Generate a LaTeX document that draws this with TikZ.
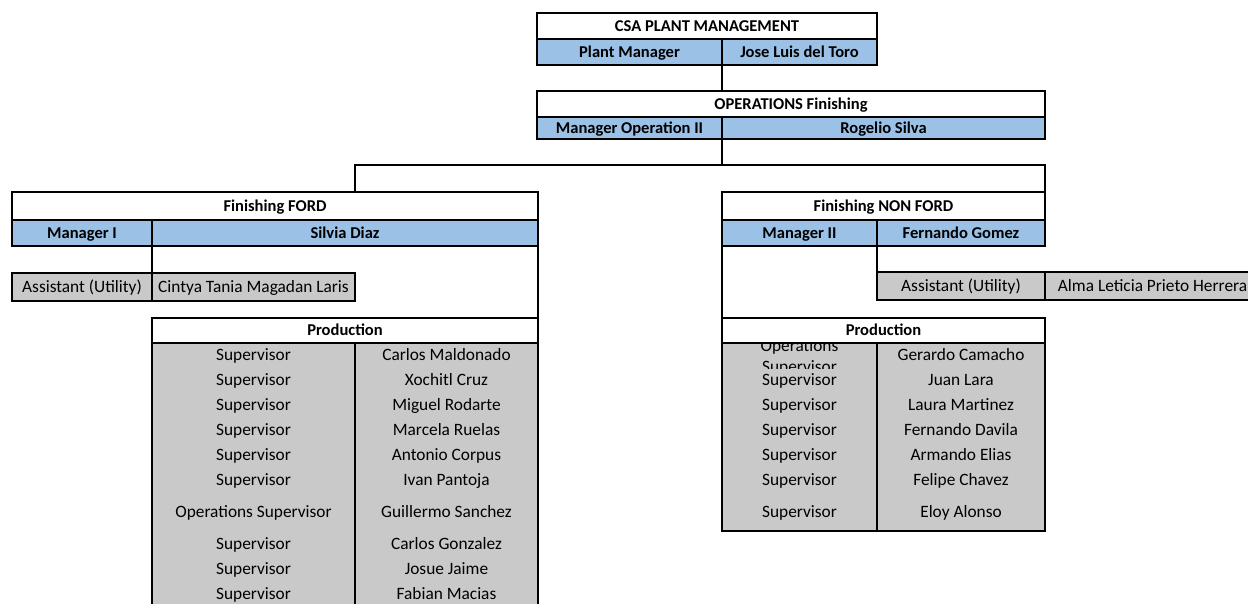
\documentclass[tikz,border=0pt]{standalone}
\usepackage{fontspec}
\setmainfont{Carlito}
\definecolor{cellblue}{HTML}{9BC2E6}
\definecolor{cellgray}{HTML}{C9C9C9}
\begin{document}
\begin{tikzpicture}[x=0.75pt,y=-0.75pt]

    \tikzset{
      cellw/.style={minimum width=#1*0.75pt},
      cellh/.style={minimum height=#1*0.75pt},
      cell/.style={
        draw,
        line width=1.5pt,
        inner sep=0pt,
        outer sep=0pt,
        text height=9.8pt,
        text depth=2.2pt,
        anchor=north west,
        font=\fontsize{13}{15}\selectfont,
      },
      head/.style={cell, fill=white, font=\fontsize{12.4}{14}\selectfont\bfseries},
      role/.style={cell, fill=cellblue, font=\fontsize{12.4}{14}\selectfont\bfseries},
      util/.style={cell, fill=cellgray},
      txt/.style={inner sep=0pt, text height=9.8pt, text depth=2.2pt, font=\fontsize{13}{15}\selectfont},
      conn/.style={line width=1.5pt},
    }
    \clip (0,0) rectangle (1248,603);

    % plant management
    \node[head, cellw=340, cellh=26] (csa) at (537,13) {CSA PLANT MANAGEMENT};
    \node[role, cellw=185, cellh=26] (pmrole) at (csa.south west) {Plant Manager};
    \node[role, cellw=155, cellh=26] (pmname) at (pmrole.north east) {Jose Luis del Toro};

    % operations
    \node[head, cellw=508, cellh=26] (ops) at (537,91) {OPERATIONS Finishing};
    \node[role, cellw=185, cellh=22] (opsrole) at (ops.south west) {Manager Operation II};
    \node[role, cellw=323, cellh=22] (opsname) at (opsrole.north east) {Rogelio Silva};
    \draw[conn] (pmrole.south east) -- (ops.north -| pmrole.south east);

    % finishing ford
    \node[head, cellw=526, cellh=28] (ford) at (12,192) {Finishing FORD};
    \node[role, cellw=140, cellh=26] (fmgr) at (ford.south west) {Manager I};
    \node[role, cellw=386, cellh=26] (fname) at (fmgr.north east) {Silvia Diaz};
    \node[util, cellw=140, cellh=28] (fasst) at (12,273) {Assistant (Utility)};
    \node[util, cellw=203, cellh=28] (fasstname) at (fasst.north east) {Cintya Tania Magadan Laris};

    % finishing non ford
    \node[head, cellw=323, cellh=28] (nford) at (722,192) {Finishing NON FORD};
    \node[role, cellw=155, cellh=26] (nmgr) at (nford.south west) {Manager II};
    \node[role, cellw=168, cellh=26] (nname) at (nmgr.north east) {Fernando Gomez};
    \node[util, cellw=168, cellh=28] (nasst) at (877,272) {Assistant (Utility)};
    \node[util, cellw=215, cellh=28] (nasstname) at (nasst.north east) {Alma Leticia Prieto Herrera};

    % connectors
    \coordinate (bus) at (722,165);
    \draw[conn] (opsrole.south east) -- (bus);
    \draw[conn] (ford.north -| fasstname.east) -- (bus -| fasstname.east) -- (bus -| nford.east) -- (nford.north east);
    \draw[conn] (fmgr.south east) -- (fasst.north east);
    \draw[conn] (nmgr.south east) -- (nasst.north west);

    % production ford
    \node[head, cellw=386, cellh=25] (fprod) at (152,318) {Production};
    \node[util, cellw=203, cellh=264] (fpl) at (fprod.south west) {};
    \node[util, cellw=183, cellh=264] (fpr) at (fpl.north east) {};
    \draw[conn] (fname.south east) -- (fprod.north east);

    \node[txt] (fr1) at (253.5,355.5) {Supervisor};
    \node[txt] (fr2) at (253.5,380.5) {Supervisor};
    \node[txt] (fr3) at (253.5,405.5) {Supervisor};
    \node[txt] (fr4) at (253.5,430.5) {Supervisor};
    \node[txt] (fr5) at (253.5,455.5) {Supervisor};
    \node[txt] (fr6) at (253.5,480.5) {Supervisor};
    \node[txt] (fr7) at (253.5,512.5) {Operations Supervisor};
    \node[txt] (fr8) at (253.5,544.5) {Supervisor};
    \node[txt] (fr9) at (253.5,569.5) {Supervisor};
    \node[txt] (fr10) at (253.5,594.5) {Supervisor};
    \node[txt] (fn1) at (446.5,355.5) {Carlos Maldonado};
    \node[txt] (fn2) at (446.5,380.5) {Xochitl Cruz};
    \node[txt] (fn3) at (446.5,405.5) {Miguel Rodarte};
    \node[txt] (fn4) at (446.5,430.5) {Marcela Ruelas};
    \node[txt] (fn5) at (446.5,455.5) {Antonio Corpus};
    \node[txt] (fn6) at (446.5,480.5) {Ivan Pantoja};
    \node[txt] (fn7) at (446.5,512.5) {Guillermo Sanchez};
    \node[txt] (fn8) at (446.5,544.5) {Carlos Gonzalez};
    \node[txt] (fn9) at (446.5,569.5) {Josue Jaime};
    \node[txt] (fn10) at (446.5,594.5) {Fabian Macias};

    % production non ford
    \node[head, cellw=323, cellh=25] (nprod) at (722,318) {Production};
    \node[util, cellw=155, cellh=188] (npl) at (nprod.south west) {};
    \node[util, cellw=168, cellh=188] (npr) at (npl.north east) {};
    \draw[conn] (nmgr.south west) -- (nprod.north west);

    \begin{scope}
      \clip (723,344.5) rectangle (876,368);
      \node[inner sep=0pt, align=center, font=\fontsize{13}{15.5}\selectfont] (nr1) at (799.5,357.5) {Operations\\Supervisor};
    \end{scope}
    \node[txt] (nr2) at (799.5,380.5) {Supervisor};
    \node[txt] (nr3) at (799.5,405.5) {Supervisor};
    \node[txt] (nr4) at (799.5,430.5) {Supervisor};
    \node[txt] (nr5) at (799.5,455.5) {Supervisor};
    \node[txt] (nr6) at (799.5,480.5) {Supervisor};
    \node[txt] (nr7) at (799.5,512.5) {Supervisor};
    \node[txt] (nn1) at (961,355.5) {Gerardo Camacho};
    \node[txt] (nn2) at (961,380.5) {Juan Lara};
    \node[txt] (nn3) at (961,405.5) {Laura Martinez};
    \node[txt] (nn4) at (961,430.5) {Fernando Davila};
    \node[txt] (nn5) at (961,455.5) {Armando Elias};
    \node[txt] (nn6) at (961,480.5) {Felipe Chavez};
    \node[txt] (nn7) at (961,512.5) {Eloy Alonso};

\end{tikzpicture}
\end{document}
